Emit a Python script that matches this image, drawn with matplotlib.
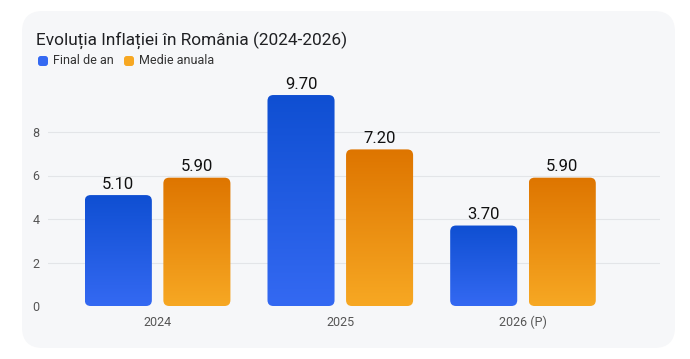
import numpy as np
import matplotlib.pyplot as plt
from matplotlib.patches import FancyBboxPatch
from matplotlib.colors import LinearSegmentedColormap

plt.rcParams['font.family'] = ['Roboto', 'DejaVu Sans']

years = ['2024', '2025', '2026 (P)']
final_an = [5.10, 9.70, 3.70]
medie_anuala = [5.90, 7.20, 5.90]
series_names = ['Final de an', 'Medie anuala']

blue_top, blue_bot = '#0f4fd2', '#3469f2'
orng_top, orng_bot = '#de7500', '#f7a823'

fig = plt.figure(figsize=(6.9, 3.59), dpi=100)
fig.patch.set_facecolor('white')

# card background
card = FancyBboxPatch((22 / 690, 11 / 359), 653 / 690, 337 / 359,
                      boxstyle='round,pad=0,rounding_size=0.03',
                      transform=fig.transFigure, facecolor='#f6f7f9',
                      edgecolor='none', mutation_aspect=690 / 359, zorder=-5)
fig.patches.append(card)

ax = fig.add_axes([48 / 690, 53 / 359, 612 / 690, 217.5 / 359])
ax.set_zorder(2)
ax.set_facecolor('none')
ax.set_xlim(-0.6, 2.75)
ax.set_ylim(0, 10)
for s in ax.spines.values():
    s.set_visible(False)
ax.set_yticks([0, 2, 4, 6, 8])
ax.set_xticks(range(len(years)))
ax.set_xticklabels(years)
ax.tick_params(length=0, labelsize=9, colors='#555555')
ax.tick_params(axis='y', pad=6)
ax.tick_params(axis='x', pad=7)
for g in [2, 4, 6, 8]:
    ax.axhline(g, color='#e3e5e8', lw=0.8, zorder=0)

bw = 0.367
offs = [-0.215, 0.215]
aspect = (10 / 217.5) / (3.35 / 612)


def grad_bar(x, h, c_top, c_bot):
    patch = FancyBboxPatch((x - bw / 2, 0), bw, h,
                           boxstyle='round,pad=0,rounding_size=0.032',
                           mutation_aspect=aspect, facecolor='none',
                           edgecolor='none', zorder=2)
    ax.add_patch(patch)
    cmap = LinearSegmentedColormap.from_list('g', [c_bot, c_top])
    grad = np.linspace(0, 1, 256).reshape(-1, 1)
    im = ax.imshow(grad, cmap=cmap, origin='lower', aspect='auto',
                   extent=(x - bw / 2, x + bw / 2, 0, h), zorder=2)
    im.set_clip_path(patch)
    ax.text(x, h + 0.15, f'{h:.2f}', ha='center', va='bottom',
            fontsize=12, color='#111111')


for i in range(len(years)):
    grad_bar(i + offs[0], final_an[i], blue_top, blue_bot)
    grad_bar(i + offs[1], medie_anuala[i], orng_top, orng_bot)
ax.set_xlim(-0.6, 2.75)
ax.set_ylim(0, 10)

fig.text(36 / 690, 1 - 40 / 359, 'Evoluția Inflației în România (2024-2026)',
         fontsize=12.4, color='#202124', va='center', ha='left')

legend_cols = [blue_bot, orng_bot]
legend_x = [38, 124]
for name, c, lx in zip(series_names, legend_cols, legend_x):
    sq = FancyBboxPatch((lx / 690, 1 - 66 / 359), 10 / 690, 10 / 359,
                        boxstyle='round,pad=0,rounding_size=0.004',
                        transform=fig.transFigure, facecolor=c,
                        edgecolor='none', mutation_aspect=690 / 359, zorder=3)
    fig.patches.append(sq)
    fig.text((lx + 15) / 690, 1 - 61 / 359, name, fontsize=9,
             color='#333333', va='center', ha='left')

plt.savefig('out.png', dpi=100)
